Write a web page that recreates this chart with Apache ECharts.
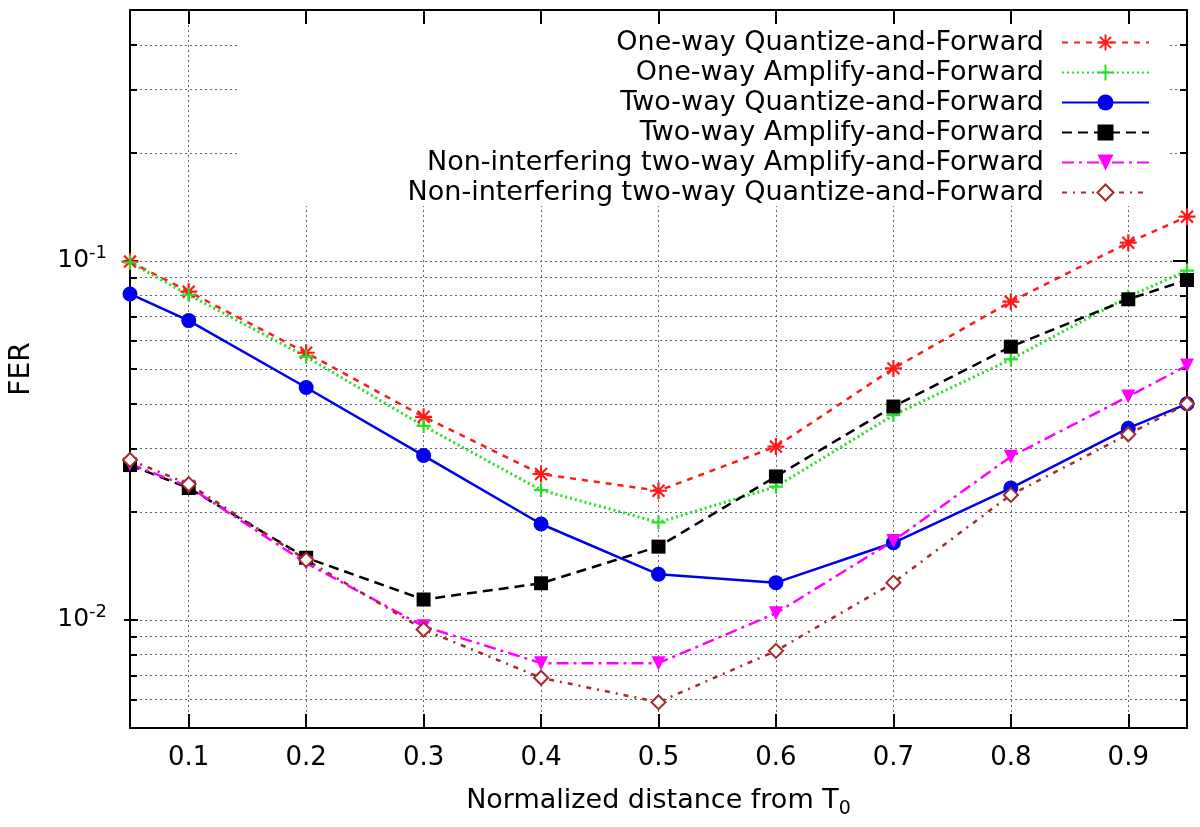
<!DOCTYPE html>
<html>
<head>
<meta charset="utf-8">
<script src="https://cdn.jsdelivr.net/npm/echarts@6/dist/echarts.min.js"></script>
<style>
  html, body { margin: 0; background: #fff; }
  #main { width: 1200px; height: 827px; }
</style>
</head>
<body>
<div id="main"></div>
<script>
// normalized distance from T0
const distance = [0.05, 0.1, 0.2, 0.3, 0.4, 0.5, 0.6, 0.7, 0.8, 0.9, 0.95];
// FER curves
const oneWayQF = [0.0996, 0.0821, 0.0555, 0.0368, 0.0255, 0.0229, 0.0304, 0.0502, 0.0770, 0.1124, 0.1328];
const oneWayAF = [0.0990, 0.0804, 0.0541, 0.0347, 0.0230, 0.0187, 0.0235, 0.0372, 0.0532, 0.0795, 0.0940];
const twoWayQF = [0.0809, 0.0682, 0.0444, 0.0287, 0.0185, 0.0134, 0.0127, 0.0164, 0.0233, 0.0342, 0.0400];
const twoWayAF = [0.0270, 0.0233, 0.0149, 0.0114, 0.01265, 0.0160, 0.0251, 0.0393, 0.0577, 0.0782, 0.0885];
const nonIntAF = [0.0272, 0.0235, 0.0144, 0.0096, 0.00758, 0.00758, 0.01044, 0.0166, 0.0285, 0.0419, 0.0511];
const nonIntQF = [0.0279, 0.0239, 0.0147, 0.0094, 0.0069, 0.0059, 0.0082, 0.0127, 0.0223, 0.0329, 0.0400];

// ticks
const xTicks = [0.1, 0.2, 0.3, 0.4, 0.5, 0.6, 0.7, 0.8, 0.9];
const yMinorTicks = [0.006, 0.007, 0.008, 0.009, 0.01, 0.02, 0.03, 0.04, 0.05, 0.06, 0.07, 0.08, 0.09, 0.1, 0.2, 0.3, 0.4];
const yMajorTicks = [0.01, 0.1];

const FONT = 'DejaVu Sans';
const starPath = 'path://M0,5L10,5M5,0L5,10M1.5,1.5L8.5,8.5M1.5,8.5L8.5,1.5';
const plusPath = 'path://M0,5L10,5M5,0L5,10';

function pairs(ys) {
  return distance.map((x, i) => [x, ys[i]]);
}

function line(name, ys, color, dash, width, symbol, size, hollow) {
  return {
    name: name,
    type: 'line',
    xAxisIndex: 0,
    yAxisIndex: 0,
    data: pairs(ys),
    symbol: symbol,
    symbolSize: size,
    lineStyle: { color: color, width: width, type: dash },
    itemStyle: hollow
      ? { color: color, borderColor: color, borderWidth: 2.2 }
      : { color: color },
    z: 3
  };
}

const series = [
  line('One-way Quantize-and-Forward', oneWayQF, '#ff1a1a', [6, 6], 2.5, starPath, 17, true),
  line('One-way Amplify-and-Forward', oneWayAF, '#22e022', [2, 3], 3, plusPath, 14, true),
  line('Two-way Quantize-and-Forward', twoWayQF, '#0000ee', 'solid', 2.5, 'circle', 15, false),
  line('Two-way Amplify-and-Forward', twoWayAF, '#000000', [10, 6], 2.5, 'rect', 14, false),
  line('Non-interfering two-way Amplify-and-Forward', nonIntAF, '#ff00ff', [12, 5, 3, 5], 2.5, 'path://M0,0L10,0L5,9Z', 14, false),
  line('Non-interfering two-way Quantize-and-Forward', nonIntQF, '#a52a2a', [5, 6, 2, 6], 2.5, 'emptyDiamond', 14, true)
];

const gridPos = { left: 124, right: 13, top: 10, bottom: 99 };
const frame = { show: true, lineStyle: { color: '#000', width: 2 } };
const dotted = { show: true, lineStyle: { color: '#666', width: 1, type: [2, 3] } };

const chart = echarts.init(document.getElementById('main'));
chart.setOption({
  animation: false,
  backgroundColor: '#fff',
  grid: [
    Object.assign({}, gridPos),
    Object.assign({}, gridPos)
  ],
  legend: {
    orient: 'vertical',
    right: 30,
    top: 10,
    align: 'right',
    padding: [19, 20, 0, 170],
    backgroundColor: '#fff',
    itemWidth: 87,
    itemHeight: 20,
    itemGap: 3,
    selectedMode: false,
    textStyle: { fontFamily: FONT, fontSize: 27, color: '#000', padding: [0, 13, 0, 0] },
    data: series.map(s => s.name)
  },
  xAxis: [
    {
      type: 'value', gridIndex: 0, position: 'bottom', min: 0.05, max: 0.95,
      axisLine: frame,
      axisTick: { show: true, inside: true, length: 14, customValues: xTicks, lineStyle: { color: '#000', width: 2 } },
      axisLabel: { show: true, customValues: xTicks, margin: 17, fontFamily: FONT, fontSize: 26, color: '#000',
        formatter: v => v.toFixed(1) },
      splitLine: dotted,
      name: 'Normalized distance from T{sub|0}',
      nameLocation: 'middle',
      nameGap: 55,
      nameTextStyle: { fontFamily: FONT, fontSize: 27, color: '#000',
        rich: { sub: { fontFamily: FONT, fontSize: 19, color: '#000', padding: [17, 0, 0, 0] } } }
    },
    {
      type: 'value', gridIndex: 0, position: 'top', min: 0.05, max: 0.95, z: 10,
      axisLine: frame,
      axisTick: { show: true, inside: true, length: 14, customValues: xTicks, lineStyle: { color: '#000', width: 2 } },
      axisLabel: { show: false },
      splitLine: { show: false }
    },
    { type: 'value', gridIndex: 1, min: 0.05, max: 0.95, show: false }
  ],
  yAxis: [
    {
      type: 'log', gridIndex: 0, position: 'left', min: 0.005, max: 0.5, logBase: 10,
      axisLine: frame,
      axisTick: { show: true, inside: true, length: 7, customValues: yMinorTicks, lineStyle: { color: '#000', width: 2 } },
      axisLabel: {
        show: true, customValues: yMajorTicks, margin: 23, fontFamily: FONT, fontSize: 25, color: '#000',
        formatter: v => '{b|10}{s|' + Math.round(Math.log10(v)) + '}',
        rich: {
          b: { fontFamily: FONT, fontSize: 25, color: '#000' },
          s: { fontFamily: FONT, fontSize: 18, color: '#000', padding: [0, 0, 15, 0] }
        }
      },
      splitLine: dotted,
      name: 'FER',
      nameLocation: 'middle',
      nameGap: 94,
      nameTextStyle: { fontFamily: FONT, fontSize: 28, color: '#000' }
    },
    {
      type: 'log', gridIndex: 0, position: 'right', min: 0.005, max: 0.5, logBase: 10,
      axisLine: frame,
      axisTick: { show: true, inside: true, length: 7, customValues: yMinorTicks, lineStyle: { color: '#000', width: 2 } },
      axisLabel: { show: false },
      splitLine: { show: false }
    },
    {
      type: 'log', gridIndex: 1, position: 'left', min: 0.005, max: 0.5, logBase: 10,
      axisLine: { show: false },
      axisTick: { show: true, inside: true, length: 14, customValues: yMajorTicks, lineStyle: { color: '#000', width: 2 } },
      axisLabel: { show: false },
      splitLine: { show: false }
    },
    {
      type: 'log', gridIndex: 1, position: 'right', min: 0.005, max: 0.5, logBase: 10,
      axisLine: { show: false },
      axisTick: { show: true, inside: true, length: 14, customValues: yMajorTicks, lineStyle: { color: '#000', width: 2 } },
      axisLabel: { show: false },
      splitLine: { show: false }
    }
  ],
  series: series
});
</script>
</body>
</html>
